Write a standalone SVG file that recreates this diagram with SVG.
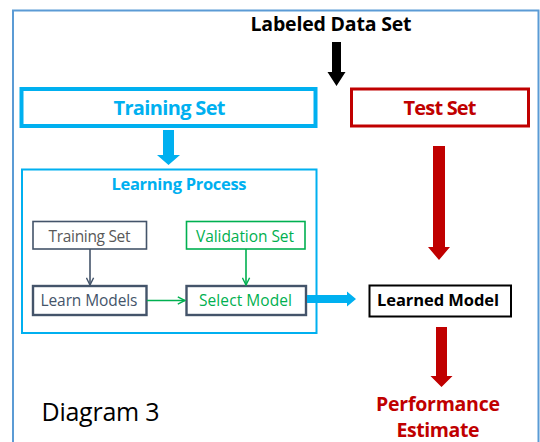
<svg xmlns="http://www.w3.org/2000/svg" width="540" height="442" viewBox="0 0 540 442">
<defs>
<style>
text{font-family:"Open Sans","Liberation Sans",sans-serif;text-anchor:middle}
.b{font-weight:bold}
.cy{fill:#00b0f0}.rd{fill:#c00000}.gr{fill:#00b050}.sl{fill:#44546a}.gy{fill:#595959}.bk{fill:#000}
</style>
<marker id="ahg" viewBox="0 0 10 10" refX="9" refY="5" markerWidth="9" markerHeight="9" markerUnits="userSpaceOnUse" orient="auto"><path d="M1,1 L9,5 L1,9" fill="none" stroke="#00b050" stroke-width="1.6"/></marker>
<marker id="ahs" viewBox="0 0 10 10" refX="9" refY="5" markerWidth="9" markerHeight="9" markerUnits="userSpaceOnUse" orient="auto"><path d="M1,1 L9,5 L1,9" fill="none" stroke="#44546a" stroke-width="1.6"/></marker>
</defs>
<rect x="0" y="0" width="540" height="442" fill="#fff"/>
<path d="M13,442 V10.5 H538.5 V442" fill="none" stroke="#5b9bd5" stroke-width="2"/>

<g id="labeled-data-set"><text class="b bk" x="331" y="31" font-size="19.5" textLength="161">Labeled Data Set</text></g>
<g id="training-set"><rect x="21.5" y="89" width="294" height="37" fill="none" stroke="#00b0f0" stroke-width="4"/><text class="b cy" x="169.5" y="115" font-size="20" textLength="112">Training Set</text></g>
<g id="test-set"><rect x="351.5" y="89" width="177" height="37" fill="none" stroke="#c00000" stroke-width="3"/><text class="b rd" x="440" y="115" font-size="20" textLength="73">Test Set</text></g>
<g id="learning-process"><rect x="22" y="169.5" width="294.5" height="163.5" fill="none" stroke="#00b0f0" stroke-width="2"/><text class="b cy" x="179" y="190" font-size="16.5" textLength="135">Learning Process</text></g>
<g id="inner-training-set"><rect x="33" y="221.5" width="113.5" height="27.5" fill="#fff" stroke="#44546a" stroke-width="1.6"/><text class="gy" x="89.5" y="241.5" font-size="15.5" textLength="82">Training Set</text></g>
<g id="validation-set"><rect x="186.5" y="221.5" width="118.5" height="27.5" fill="#fff" stroke="#00b050" stroke-width="1.6"/><text class="gr" x="245" y="241.5" font-size="15.5" textLength="98">Validation Set</text></g>
<g id="learn-models"><rect x="33" y="286" width="113.5" height="29" fill="#fff" stroke="#44546a" stroke-width="2.4"/><text class="sl" x="89" y="306" font-size="15.5" textLength="97">Learn Models</text></g>
<g id="select-model"><rect x="186.5" y="286" width="119.5" height="29" fill="#fff" stroke="#44546a" stroke-width="2.4"/><text class="gr" x="245.5" y="306" font-size="15.5" textLength="93">Select Model</text></g>
<g id="learned-model"><rect x="369.5" y="285.5" width="141.5" height="31" fill="#fff" stroke="#000" stroke-width="2"/><text class="b bk" x="438" y="306" font-size="16.5" textLength="122">Learned Model</text></g>
<g id="performance-estimate"><text class="b rd" x="438" y="411" font-size="19.5" textLength="124">Performance</text><text class="b rd" x="438" y="437" font-size="19.5" textLength="83">Estimate</text></g>
<g id="diagram-label"><text x="100.5" y="421" font-size="25" textLength="118" style="fill:#000">Diagram 3</text></g>

<g id="connectors">
<polygon points="332,42 341,42 341,72 345.5,72 336.5,86 327.5,72 332,72" fill="#000"/>
<polygon points="163,130 174,130 174,155 180,155 168.5,165 157,155 163,155" fill="#00b0f0"/>
<polygon points="433,146 445,146 445,247 450,247 439,260 428,247 433,247" fill="#c00000"/>
<polygon points="436,327 447,327 447,376 452.5,376 441.5,387 430.5,376 436,376" fill="#c00000"/>
<polygon points="307,295 347,295 347,291.5 356,299 347,306.5 347,303 307,303" fill="#00b0f0"/>
<line x1="90" y1="249" x2="90" y2="285" stroke="#44546a" stroke-width="1.6" marker-end="url(#ahs)"/>
<line x1="246" y1="249" x2="246" y2="285" stroke="#00b050" stroke-width="1.6" marker-end="url(#ahg)"/>
<line x1="147" y1="300.5" x2="185" y2="300.5" stroke="#00b050" stroke-width="1.6" marker-end="url(#ahg)"/>
</g>
</svg>
